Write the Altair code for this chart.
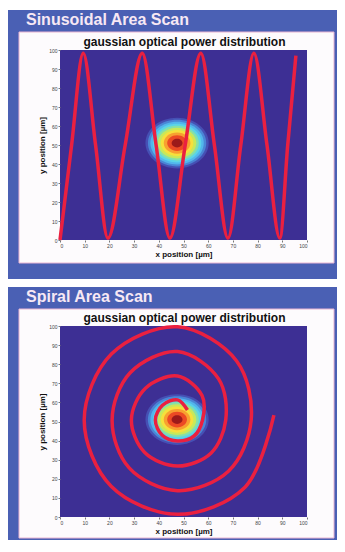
import altair as alt
import pandas as pd

# ---------------- data ----------------
ticks = [0, 10, 20, 30, 40, 50, 60, 70, 80, 90, 100]

# sinusoidal scan path (x, y in µm)
sine_x = [0, 4.7, 9.4, 14.4, 19.4, 26.4, 33.3, 38.9, 44.5, 50.7, 57.0, 62.5,
          68.0, 73.2, 78.5, 83.8, 89.0, 92.2, 95.5]
sine_y = [0, 50, 98.3, 50, 1, 50, 98.3, 50, 1, 50, 98.3, 50, 1, 50, 98.3, 50,
          1, 50, 97]

# spiral scan path (x, y in µm), in drawing order from the centre outwards
spiral_x = [51.6, 47.6, 41.5, 38.6, 41.4, 47.6, 54.2, 57.7, 57.5,
            47.6, 34.6, 28.9, 34.3, 47.6, 61.1, 67.1, 64.2,
            47.6, 28.4, 21.1, 28.0, 47.6, 68.3, 77.4, 71.5,
            47.6, 20.8, 9.8, 20.7, 47.6, 74.9, 86.6]
spiral_y = [56.0, 61.3, 58.5, 50.8, 42.8, 39.8, 42.3, 50.8, 63.6,
            73.8, 67.4, 50.8, 33.8, 26.7, 33.4, 50.8, 72.3,
            86.6, 75.5, 50.8, 25.7, 13.8, 24.1, 50.8, 81.7,
            99.6, 85.3, 50.8, 16.1, 1.4, 15.6, 53.4]

# gaussian spot: centre and contour levels (radius in µm, relative power)
spot_cx, spot_cy = 47.4, 51.0
spot_radius = [12.8, 11.8, 10.8, 9.8, 8.8, 7.8, 6.6, 5.4, 4.0, 2.2]
spot_power = [0.05, 0.15, 0.25, 0.35, 0.45, 0.55, 0.65, 0.75, 0.85, 0.95]
jet_colors = ["#4650b4", "#4a86d6", "#52b6ec", "#5ad4e8", "#86e0a8",
              "#c8e85a", "#f6e03c", "#f8a030", "#ec4a24", "#9c1a1a"]

# ---------------- styles ----------------
BLUE = "#4a60b4"
PLOT_BG = "#3d2f94"
RED = "#ea2040"
FONT = "Liberation Sans"
W = 247
ELLIPSE = "M-1,0A1,0.8,0,1,1,1,0A1,0.8,0,1,1,-1,0Z"

sine_df = pd.DataFrame({"x": sine_x, "y": sine_y, "i": range(len(sine_x))})
spiral_df = pd.DataFrame({"x": spiral_x, "y": spiral_y, "i": range(len(spiral_x))})
spot_df = pd.DataFrame({"x": [spot_cx] * len(spot_radius),
                        "y": [spot_cy] * len(spot_radius),
                        "r": spot_radius, "p": spot_power})
frame_df = pd.DataFrame({"x": [0], "x1": [100], "y": [0], "y1": [100]})
one = pd.DataFrame({"k": [0]})

xs = alt.Scale(domain=[0, 100], nice=False, zero=False)
ys = alt.Scale(domain=[0, 100], nice=False, zero=False)


def axis(title):
    return alt.Axis(values=ticks, title=title, labelFontSize=5, titleFontSize=8,
                    titleFontWeight="bold", domain=False, ticks=True, tickSize=2,
                    labelPadding=1, titlePadding=2, grid=False, zindex=2,
                    labelColor="#444444", tickColor="#777777",
                    titleColor="#111111", labelFont=FONT, titleFont=FONT,
                    labelOverlap=False)


XA = axis("x position [µm]")
YA = axis("y position [µm]")


def X(field="x"):
    return alt.X(f"{field}:Q", scale=xs, axis=XA)


def Y(field="y"):
    return alt.Y(f"{field}:Q", scale=ys, axis=YA)


def panel(heading, curve_df, interp, h, blue_box, inner_box):
    bx0, bx1, by0, by1 = blue_box
    ix0, ix1, iy0, iy1 = inner_box
    blue = alt.Chart(one).mark_rect(color=BLUE).encode(
        x=alt.value(bx0), x2=alt.value(bx1), y=alt.value(by0), y2=alt.value(by1))
    inner = alt.Chart(one).mark_rect(fill="#fdfbfd", stroke="#e8b4d2",
                                     strokeWidth=1).encode(
        x=alt.value(ix0), x2=alt.value(ix1), y=alt.value(iy0), y2=alt.value(iy1))
    head = alt.Chart(one).mark_text(text=heading, align="left", baseline="middle",
                                    font=FONT, fontSize=16, fontWeight="bold",
                                    color="#f7e8f4").encode(
        x=alt.value(-34), y=alt.value(by0 + 10))
    title = alt.Chart(one).mark_text(text="gaussian optical power distribution",
                                     align="center", baseline="middle",
                                     font=FONT, fontSize=12, fontWeight="bold",
                                     color="#111111").encode(
        x=alt.value(W / 2 + 1), y=alt.value(-8))
    bg = alt.Chart(frame_df).mark_rect(color=PLOT_BG).encode(
        x=X(), x2="x1", y=Y(), y2="y1")
    spot = alt.Chart(spot_df).mark_point(filled=True, shape=ELLIPSE, opacity=1,
                                         strokeWidth=0).encode(
        x=X(), y=Y(),
        size=alt.Size("r:Q", scale=alt.Scale(type="pow", exponent=2,
                                             domain=[0, 100], range=[0, 4 * W * W]),
                      legend=None),
        color=alt.Color("p:N", scale=alt.Scale(domain=spot_power, range=jet_colors),
                        legend=None),
        order=alt.Order("r:Q", sort="descending"))
    curve = alt.Chart(curve_df).mark_line(color=RED, strokeWidth=3.5,
                                          interpolate=interp).encode(
        x=X(), y=Y(), order="i:Q")
    return alt.layer(blue, inner, bg, spot, curve, head, title).properties(
        width=W, height=h)


top = panel("Sinusoidal Area Scan", sine_df, "monotone", 190,
            (-52, 277, -40, 229), (-41, 274, -18, 213))
bottom = panel("Spiral Area Scan", spiral_df, "catmull-rom", 191,
               (-52, 277, -39, 214), (-41, 274, -17, 212))

chart = alt.vconcat(top, bottom, spacing=8).properties(
    padding={"left": 0, "top": 2, "right": 0, "bottom": 0},
    background="white",
).configure_view(stroke=None).configure_axis(zindex=2)

chart.save("out.html", embed_options={"renderer": "svg", "actions": False})
